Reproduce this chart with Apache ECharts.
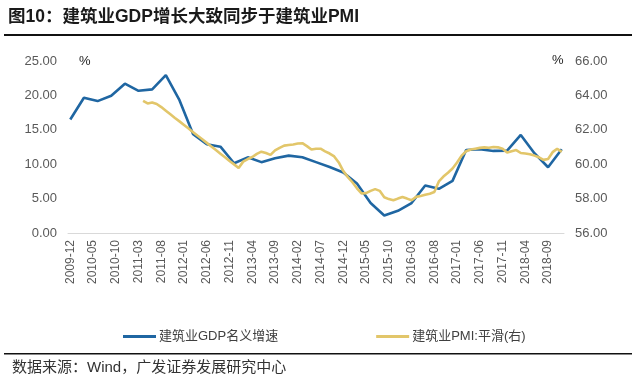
<!DOCTYPE html>
<html><head><meta charset="utf-8">
<script src="https://cdn.jsdelivr.net/npm/echarts@6/dist/echarts.min.js"></script>
<style>html,body{margin:0;padding:0;background:#fff}#c{width:636px;height:382px}</style>
</head><body><div id="c"></div>
<script>
// monthly categories 2009-12 .. 2018-12
const categories = [
"2009-12",
"2010-01","2010-02","2010-03","2010-04","2010-05","2010-06","2010-07","2010-08","2010-09","2010-10","2010-11","2010-12",
"2011-01","2011-02","2011-03","2011-04","2011-05","2011-06","2011-07","2011-08","2011-09","2011-10","2011-11","2011-12",
"2012-01","2012-02","2012-03","2012-04","2012-05","2012-06","2012-07","2012-08","2012-09","2012-10","2012-11","2012-12",
"2013-01","2013-02","2013-03","2013-04","2013-05","2013-06","2013-07","2013-08","2013-09","2013-10","2013-11","2013-12",
"2014-01","2014-02","2014-03","2014-04","2014-05","2014-06","2014-07","2014-08","2014-09","2014-10","2014-11","2014-12",
"2015-01","2015-02","2015-03","2015-04","2015-05","2015-06","2015-07","2015-08","2015-09","2015-10","2015-11","2015-12",
"2016-01","2016-02","2016-03","2016-04","2016-05","2016-06","2016-07","2016-08","2016-09","2016-10","2016-11","2016-12",
"2017-01","2017-02","2017-03","2017-04","2017-05","2017-06","2017-07","2017-08","2017-09","2017-10","2017-11","2017-12",
"2018-01","2018-02","2018-03","2018-04","2018-05","2018-06","2018-07","2018-08","2018-09","2018-10","2018-11","2018-12"
];
// quarterly GDP nominal growth (left axis)
const gdpDates = ["2009-12","2010-03","2010-06","2010-09","2010-12","2011-03","2011-06","2011-09","2011-12",
"2012-03","2012-06","2012-09","2012-12","2013-03","2013-06","2013-09","2013-12","2014-03","2014-06","2014-09","2014-12",
"2015-03","2015-06","2015-09","2015-12","2016-03","2016-06","2016-09","2016-12","2017-03","2017-06","2017-09","2017-12",
"2018-03","2018-06","2018-09","2018-12"];
const gdpValues = [16.5,19.65,19.17,19.94,21.7,20.67,20.87,22.94,19.3,
14.35,12.9,12.55,10.14,11.0,10.3,10.87,11.25,11.0,10.3,9.6,8.8,
7.2,4.35,2.55,3.23,4.35,6.9,6.42,7.58,12.07,12.17,11.93,11.97,
14.25,11.6,9.56,12.17];
// smoothed construction PMI (right axis), 2011-04 .. 2018-12
const pmiStart = "2011-04";
const pmiValues = [63.68,63.53,63.59,63.5,63.32,63.11,62.9,62.69,62.49,62.28,62.07,61.86,61.65,61.45,61.24,61.03,60.82,60.61,60.4,60.19,59.99,
59.78,60.15,60.3,60.42,60.6,60.73,60.65,60.54,60.8,60.95,61.08,61.12,61.15,61.2,61.22,61.05,60.85,60.9,60.9,60.75,60.62,60.45,60.1,59.6,
59.25,58.95,58.6,58.3,58.32,58.45,58.55,58.45,58.08,57.97,57.9,58.0,58.09,58.0,57.9,58.1,58.15,58.22,58.28,58.38,
59.0,59.28,59.5,59.75,60.1,60.5,60.75,60.85,60.9,60.95,60.98,60.96,61.0,60.98,60.9,60.68,60.75,60.82,60.65,60.62,60.58,60.5,60.4,60.25,60.3,60.7,60.9,60.72];
const leftTicks = [0,5,10,15,20,25];
const rightTicks = [56,58,60,62,64,66];

const gdpSeries = categories.map(() => null);
gdpDates.forEach((d, k) => { gdpSeries[categories.indexOf(d)] = gdpValues[k]; });
const pmiSeries = categories.map(() => null);
const p0 = categories.indexOf(pmiStart);
pmiValues.forEach((v, k) => { pmiSeries[p0 + k] = v; });

const BLUE = '#1f66a2', YEL = '#e2c66a';
const txt = '#595959';
const chart = echarts.init(document.getElementById('c'));
chart.setOption({
  animation: false,
  textStyle: { fontFamily: 'Liberation Sans, Arial, Noto Sans CJK SC' },
  grid: { left: 68, right: 72, top: 61, bottom: 149 },
  xAxis: {
    type: 'category', data: categories, boundaryGap: true,
    axisLine: { lineStyle: { color: '#d9d9d9', width: 1 } },
    axisTick: { interval: 4, length: 4, lineStyle: { color: '#d9d9d9' } },
    axisLabel: { interval: 4, rotate: 90, color: txt, fontSize: 12, margin: 7 ,fontFamily: 'Liberation Sans'}
  },
  yAxis: [
    { type: 'value', min: leftTicks[0], max: leftTicks[leftTicks.length-1], interval: 5,
      axisLine: { show: false }, axisTick: { show: false }, splitLine: { show: false },
      axisLabel: { color: txt, fontSize: 13, margin: 11, formatter: v => v.toFixed(2) } },
    { type: 'value', min: rightTicks[0], max: rightTicks[rightTicks.length-1], interval: 2,
      axisLine: { show: false }, axisTick: { show: false }, splitLine: { show: false },
      axisLabel: { color: txt, fontSize: 13, margin: 11, formatter: v => v.toFixed(2) } }
  ],
  legend: {
    left: 118, top: 325, itemGap: 98, itemWidth: 33, itemHeight: 3, icon: 'rect',
    textStyle: { fontSize: 13, color: '#404040', fontFamily: 'Liberation Sans, Noto Sans CJK SC', padding: [0,0,0,-2] },
    data: ['建筑业GDP名义增速', '建筑业PMI:平滑(右)']
  },
  series: [
    { name: '建筑业GDP名义增速', type: 'line', data: gdpSeries, connectNulls: true, yAxisIndex: 0,
      showSymbol: false, symbol: 'none', lineStyle: { color: BLUE, width: 2.6 }, itemStyle: { color: BLUE }, z: 3 },
    { name: '建筑业PMI:平滑(右)', type: 'line', data: pmiSeries, yAxisIndex: 1,
      showSymbol: false, symbol: 'none', lineStyle: { color: YEL, width: 2.6 }, itemStyle: { color: YEL }, z: 4 }
  ],
  graphic: [
    { type: 'text', left: 8, top: 8, style: { text: '图10：建筑业GDP增长大致同步于建筑业PMI', font: 'bold 17.5px "Liberation Sans", "Noto Sans CJK SC"', fill: '#1a1a1a' } },
    { type: 'rect', shape: { x: 4, y: 34, width: 628, height: 2 }, style: { fill: '#111' } },
    { type: 'rect', shape: { x: 4, y: 353, width: 628, height: 1.5 }, style: { fill: '#111' } },
    { type: 'text', left: 12, top: 360, style: { text: '数据来源：Wind，广发证券发展研究中心', font: '15px "Liberation Sans", "Noto Sans CJK SC"', fill: '#333' } },
    { type: 'text', left: 79, top: 55, style: { text: '%', font: '13px "Liberation Sans"', fill: '#222' } },
    { type: 'text', left: 552, top: 54, style: { text: '%', font: '13px "Liberation Sans"', fill: '#222' } }
  ]
});
</script></body></html>
